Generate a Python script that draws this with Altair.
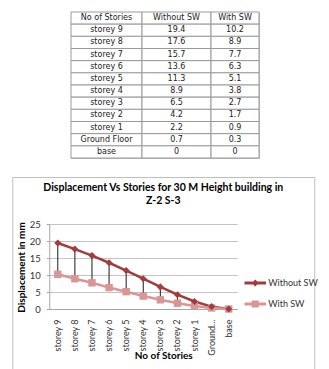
import altair as alt
import pandas as pd

# ---------------- data ----------------
stories = ["storey 9", "storey 8", "storey 7", "storey 6", "storey 5", "storey 4",
           "storey 3", "storey 2", "storey 1", "Ground Floor", "base"]
without_sw = [19.4, 17.6, 15.7, 13.6, 11.3, 8.9, 6.5, 4.2, 2.2, 0.7, 0]
with_sw = [10.2, 8.9, 7.7, 6.3, 5.1, 3.8, 2.7, 1.7, 0.9, 0.3, 0]
series_names = ["Without SW", "With SW"]
table_header = ["No of Stories", "Without SW", "With SW"]
y_ticks = [0, 5, 10, 15, 20, 25]
title_lines = ["Displacement Vs Stories for 30 M Height building in", "Z-2 S-3"]
x_title = "No of Stories"
y_title = "Displacement in mm"
colors = ["#A33B3C", "#D99694"]

CHART_FONT = "Lato"
TABLE_FONT = "DejaVu Sans"

# ---------------- table ----------------
col_texts = [
    [table_header[0]] + stories,
    [table_header[1]] + [str(v) for v in without_sw],
    [table_header[2]] + [str(v) for v in with_sw],
]
col_widths = [71, 69, 48]
TABLE_H = 146


def table_col(texts, w):
    df = pd.DataFrame({"row": list(range(len(texts))), "text": texts})
    base = alt.Chart(df).encode(
        y=alt.Y("row:O", axis=None, scale=alt.Scale(paddingInner=0, paddingOuter=0))
    )
    cells = base.mark_rect(fill="white", stroke="#9a9a9a", strokeWidth=1).encode(
        x=alt.value(0), x2=alt.value(w)
    )
    txt = base.mark_text(font=TABLE_FONT, fontSize=8, color="#222222").encode(
        x=alt.value(w / 2), text="text:N"
    )
    return alt.layer(cells, txt).properties(width=w, height=TABLE_H)


table = alt.hconcat(
    *[table_col(t, w) for t, w in zip(col_texts, col_widths)], spacing=0, bounds="flush"
)

# ---------------- chart ----------------
long_df = pd.DataFrame({
    "story": stories * 2,
    "series": [series_names[0]] * len(stories) + [series_names[1]] * len(stories),
    "value": without_sw + with_sw,
})
wide_df = pd.DataFrame({"story": stories, "without": without_sw, "with": with_sw})

# outer chart-area box and the plot region inside it
BOX_W, BOX_H = 302, 192
PLOT_L, PLOT_R, PLOT_T, PLOT_B = 37, 225, 47, 132

x_enc = alt.X(
    "story:N", sort=stories, scale=alt.Scale(domain=stories, range=[PLOT_L, PLOT_R]),
    axis=alt.Axis(
        title=x_title, labelAngle=270, labelFont=CHART_FONT, labelFontSize=9,
        labelColor="#333333", labelPadding=10, ticks=False,
        labelExpr="length(datum.label) > 10 ? slice(datum.label, 0, 6) + '...' : datum.label",
        domainColor="#A6A6A6", titleFont=CHART_FONT, titleFontSize=10,
        titleFontWeight="bold", titleColor="black", titleX=151, titleY=41,
        titleBaseline="top", offset=PLOT_B - BOX_H,
    ),
)
y_scale = alt.Scale(domain=[0, 25], nice=False, range=[PLOT_B, PLOT_T])
y_axis = alt.Axis(
    title=y_title, values=y_ticks, labelFont=CHART_FONT, labelFontSize=9.5,
    labelColor="#333333", labelPadding=6, tickSize=3, tickColor="#A6A6A6",
    domainColor="#A6A6A6", gridColor="#C4C4C4", grid=True,
    titleFont=CHART_FONT, titleFontSize=10, titleFontWeight="bold", titleColor="black",
    titleX=-28, titleY=90, titleBaseline="middle", titleAngle=270,
    offset=-PLOT_L,
)
color_scale = alt.Scale(domain=series_names, range=colors)

diamond_path = "M-1,-0.07H1V0.07H-1Z M-0.24,0L0,-0.24L0.24,0L0,0.24Z"
square_path = "M-1,-0.07H1V0.07H-1Z M-0.28,-0.28H0.28V0.28H-0.28Z"

leg = alt.Legend(
    title=None, orient="none", legendX=232, legendY=95, labelFont=CHART_FONT,
    labelFontSize=9, labelColor="#333333", symbolSize=400, rowPadding=4,
    labelOffset=2,
)

legend_layer = alt.Chart(long_df).transform_filter("false").mark_point(
    filled=True, opacity=1
).encode(
    color=alt.Color("series:N", scale=color_scale, legend=leg),
    shape=alt.Shape("series:N", scale=alt.Scale(domain=series_names,
                                                range=[diamond_path, square_path]),
                    legend=leg),
)

hilo = alt.Chart(wide_df).mark_rule(color="#1a1a1a", strokeWidth=1).encode(
    x=x_enc,
    y=alt.Y("without:Q", scale=y_scale, axis=y_axis),
    y2="with:Q",
)

lines = alt.Chart(long_df).mark_line(strokeWidth=2.5).encode(
    x=x_enc,
    y=alt.Y("value:Q", scale=y_scale, axis=y_axis),
    color=alt.Color("series:N", scale=color_scale, legend=None),
    detail="series:N",
)

pts_without = alt.Chart(long_df).transform_filter(
    alt.datum.series == series_names[0]
).mark_point(filled=True, shape="diamond", size=50, opacity=1).encode(
    x=x_enc, y=alt.Y("value:Q", scale=y_scale, axis=y_axis),
    color=alt.Color("series:N", scale=color_scale, legend=None),
)
pts_with = alt.Chart(long_df).transform_filter(
    alt.datum.series == series_names[1]
).mark_point(filled=True, shape="square", size=55, opacity=1).encode(
    x=x_enc, y=alt.Y("value:Q", scale=y_scale, axis=y_axis),
    color=alt.Color("series:N", scale=color_scale, legend=None),
)

main = alt.layer(legend_layer, hilo, lines, pts_with, pts_without).properties(
    width=BOX_W, height=BOX_H,
    title=alt.TitleParams(
        text=title_lines, font=CHART_FONT, fontSize=10.5, fontWeight="bold",
        color="black", anchor="middle", frame="group", offset=-29, lineHeight=13,
    ),
)

chart = alt.vconcat(table, main, spacing=17, center=True).resolve_legend(
    color="independent", shape="independent"
).properties(
    padding={"left": 11, "top": 11, "right": 5, "bottom": 0}
).configure_view(stroke="#BFBFBF", strokeWidth=1)

chart.save("out.html", embed_options={"renderer": "svg", "actions": False})
